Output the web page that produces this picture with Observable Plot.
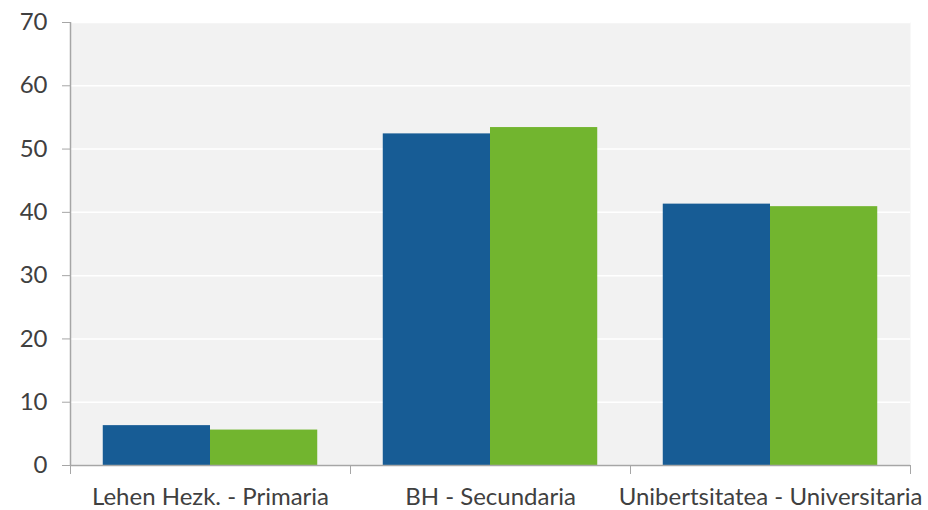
<!DOCTYPE html>
<html>
<head>
<meta charset="utf-8">
<script src="https://cdn.jsdelivr.net/npm/d3@7"></script>
<script src="https://cdn.jsdelivr.net/npm/@observablehq/plot@0.6"></script>
<style>
  html, body { margin: 0; padding: 0; background: #ffffff; }
  #chart svg { display: block; }
</style>
</head>
<body>
<div id="chart"></div>
<script>
// Education level (Basque - Spanish)
const categories = ["Lehen Hezk. - Primaria", "BH - Secundaria", "Unibertsitatea - Universitaria"];
// Two series, one bar each per level (%)
const seriesBlue = [6.3, 52.4, 41.3];
const seriesGreen = [5.6, 53.4, 40.9];
const yTicks = [0, 10, 20, 30, 40, 50, 60, 70];

const colors = { blue: "#175c95", green: "#72b52f" };

// Each level occupies one unit on x; the pair of bars sits centred in it
const pad = 0.117;
const rows = [];
categories.forEach((c, i) => {
  rows.push({ cat: c, i, series: "blue", x1: i + pad, x2: i + 0.5, value: seriesBlue[i] });
  rows.push({ cat: c, i, series: "green", x1: i + 0.5, x2: i + 1 - pad, value: seriesGreen[i] });
});
const boundaries = d3.range(categories.length + 1);
const centres = categories.map((_, i) => i + 0.5);

const axisColor = "#a6a6a6";
const textColor = "#404040";

const chart = Plot.plot({
  width: 928,
  height: 510,
  marginLeft: 70,
  marginRight: 18,
  marginTop: 22,
  marginBottom: 45,
  style: { fontFamily: "Lato, 'Open Sans', sans-serif", color: textColor, background: "#ffffff" },
  x: { domain: [0, categories.length], axis: null },
  y: { domain: [0, 70], axis: null },
  marks: [
    Plot.frame({ fill: "#f2f2f2", stroke: null }),
    Plot.gridY(yTicks, { stroke: "#ffffff", strokeOpacity: 1, strokeWidth: 1.5 }),
    Plot.rectY(rows, {
      x1: "x1", x2: "x2", y: "value",
      fill: d => colors[d.series]
    }),
    // y axis: ticks, labels and the axis line
    Plot.axisY(yTicks, {
      label: null,
      tickSize: 8, tickPadding: 15, stroke: axisColor, strokeOpacity: 1,
      fontSize: 24, fill: textColor
    }),
    Plot.ruleX([0], { stroke: axisColor, strokeWidth: 1.5 }),
    Plot.ruleY([0], { stroke: axisColor, strokeWidth: 1.5 }),
    // x axis: tick marks on the boundaries between levels, labels centred
    Plot.axisX(boundaries, {
      label: null,
      tickSize: 9, stroke: axisColor, strokeOpacity: 1, tickFormat: () => ""
    }),
    Plot.axisX(centres, {
      label: null,
      tickSize: 0, tickPadding: 22, fontSize: 24, fill: textColor,
      tickFormat: v => categories[Math.floor(v)]
    })
  ]
});

document.getElementById("chart").appendChild(chart);
</script>
</body>
</html>
